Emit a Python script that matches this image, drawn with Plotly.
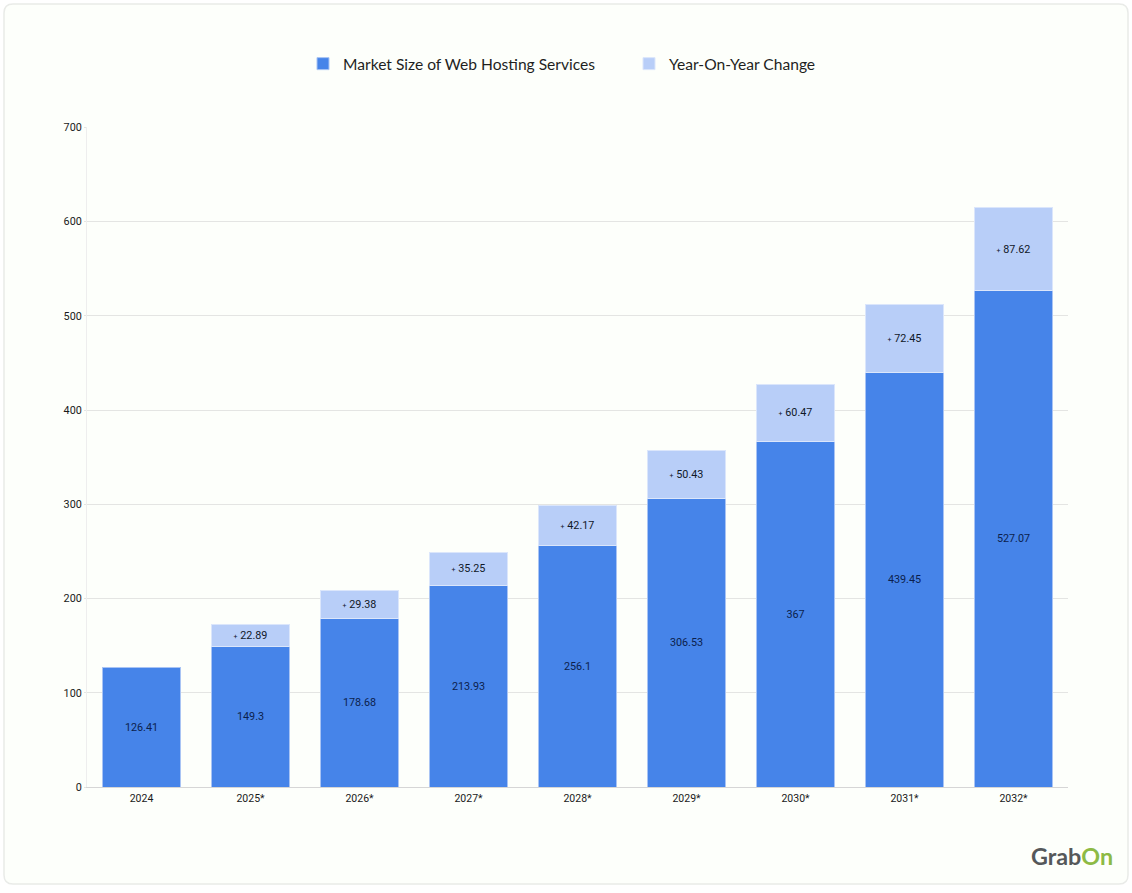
import plotly.graph_objects as go

years = ["2024", "2025*", "2026*", "2027*", "2028*", "2029*", "2030*", "2031*", "2032*"]
market_size = [126.41, 149.3, 178.68, 213.93, 256.1, 306.53, 367, 439.45, 527.07]
yoy_change = [None, 22.89, 29.38, 35.25, 42.17, 50.43, 60.47, 72.45, 87.62]
y_ticks = [0, 100, 200, 300, 400, 500, 600, 700]

W, H = 1132, 893
L, R, T, B = 87, 1068, 127, 787
BG = "#fdfffb"
BLUE = "#4684e9"
LIGHT = "#b8cef8"


def px(x):
    return (x - L) / (R - L)


def py(y):
    return (B - y) / (B - T)


def card(x0, y0, x1, y1, r):
    a, b, c, d = px(x0), px(x1), py(y0), py(y1)
    rx, ry = r / (R - L), r / (B - T)
    return (f"M {a + rx} {c} L {b - rx} {c} Q {b} {c} {b} {c - ry} L {b} {d + ry} "
            f"Q {b} {d} {b - rx} {d} L {a + rx} {d} Q {a} {d} {a} {d + ry} "
            f"L {a} {c - ry} Q {a} {c} {a + rx} {c} Z")


fig = go.Figure()
fig.add_bar(
    name="Market Size of Web Hosting Services", x=years, y=market_size,
    marker=dict(color=BLUE, line=dict(color="#a9c4f4", width=1)),
    text=[f"{v:g}" for v in market_size], textposition="inside", insidetextanchor="middle",
    textangle=0, textfont=dict(family="Roboto", size=10.8, color="#0c1f4d"),
)
fig.add_bar(
    name="Year-On-Year Change", x=years, y=yoy_change,
    marker=dict(color=LIGHT, line=dict(color="#dbe6fb", width=1)),
    text=["" if v is None else f"<span style='font-size:7px'>+</span> {v:g}" for v in yoy_change],
    textposition="inside", insidetextanchor="middle", textangle=0,
    textfont=dict(family="Roboto", size=10.8, color="#101828"),
)

fig.update_layout(
    width=W, height=H, barmode="stack", bargap=0.285,
    margin=dict(l=L, r=W - R, t=T, b=H - B, autoexpand=False),
    paper_bgcolor="#ffffff", plot_bgcolor="rgba(0,0,0,0)",
    font=dict(family="Roboto", color="#222222"),
    legend=dict(
        orientation="h", x=px(303), xanchor="left", y=py(64), yanchor="middle",
        font=dict(family="Lato", size=15.6, color="#1f1f1f"), traceorder="normal",
        itemclick=False, itemdoubleclick=False, bgcolor="rgba(0,0,0,0)",
        entrywidthmode="pixels", entrywidth=281,
    ),
    xaxis=dict(
        showgrid=False, showline=True, linecolor="#d6d6d6", linewidth=1, ticks="",
        tickfont=dict(family="Roboto", size=10.5, color="#1a1a1a"), ticklabelstandoff=1,
    ),
    yaxis=dict(
        range=[0, 700.4], tickvals=y_ticks, showgrid=True, gridcolor="#e4e5e3", gridwidth=1,
        zeroline=False, showline=True, linecolor="#eeeeee", linewidth=1,
        ticks="outside", ticklen=2, tickcolor="#e4e5e3",
        tickfont=dict(family="Roboto", size=10.8, color="#1a1a1a"),
    ),
    shapes=[dict(type="path", xref="paper", yref="paper", layer="below",
                 path=card(4, 4, 1128, 884, 9), fillcolor=BG,
                 line=dict(color="#e9ebe8", width=1.5))],
    annotations=[dict(
        xref="paper", yref="paper", x=px(1115), y=py(856), xanchor="right", yanchor="middle",
        text="<b>Grab<span style='color:#8dba45'>On</span></b>", showarrow=False,
        font=dict(family="Lato", size=23.3, color="#55585a"),
    )],
)

fig.write_html("out.html", config=dict(displayModeBar=False),
               post_script="document.body.style.margin='0';document.body.style.background='#ffffff';")
